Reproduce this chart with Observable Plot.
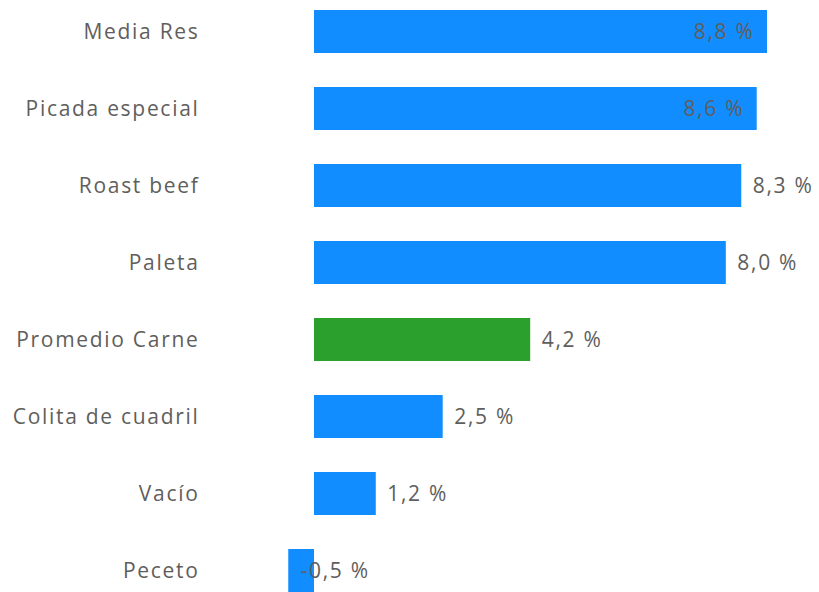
<!DOCTYPE html>
<html>
<head>
<meta charset="utf-8">
<script src="https://cdn.jsdelivr.net/npm/d3@7"></script>
<script src="https://cdn.jsdelivr.net/npm/@observablehq/plot@0.6"></script>
<style>
  html, body { margin: 0; padding: 0; background: #fff; }
  #chart svg { display: block; }
  #chart text { letter-spacing: 1.7px; }
</style>
</head>
<body>
<div id="chart"></div>
<script>
const categories = ["Media Res", "Picada especial", "Roast beef", "Paleta", "Promedio Carne", "Colita de cuadril", "Vacío", "Peceto"];
const values = [8.8, 8.6, 8.3, 8.0, 4.2, 2.5, 1.2, -0.5];
const highlight = ["Promedio Carne"];
const insideLabels = ["Media Res", "Picada especial"];

const fmt = v => v.toFixed(1).replace(".", ",") + " %";
const data = categories.map((c, i) => ({cat: c, v: values[i], label: fmt(values[i])}));

const font = "'Open Sans', 'Noto Sans', sans-serif";
const textColor = "#605e5c";
const fs = 21;

const chart = Plot.plot({
  width: 819,
  height: 592,
  marginLeft: 199,
  marginRight: 0,
  marginTop: 0,
  marginBottom: 0,
  style: {fontFamily: font, background: "#fff"},
  x: {domain: [0, 8.8], range: [314, 767], axis: null},
  y: {domain: categories, range: [8, 594], paddingInner: 0.446, paddingOuter: 0, label: null},
  marks: [
    Plot.barX(data, {
      y: "cat", x: "v",
      fill: d => highlight.includes(d.cat) ? "#2ca02c" : "#118dff"
    }),
    Plot.axisY({tickSize: 0, tickPadding: 0, fontSize: fs, fill: textColor, label: null}),
    Plot.text(data.filter(d => insideLabels.includes(d.cat)), {
      y: "cat", x: "v", text: "label", textAnchor: "end", dx: -13,
      fontSize: fs, fill: textColor
    }),
    Plot.text(data.filter(d => !insideLabels.includes(d.cat) && d.v >= 0), {
      y: "cat", x: "v", text: "label", textAnchor: "start", dx: 11,
      fontSize: fs, fill: textColor
    }),
    Plot.text(data.filter(d => d.v < 0), {
      y: "cat", x: d => 0, text: "label", textAnchor: "start", dx: -14,
      fontSize: fs, fill: textColor
    })
  ]
});
document.getElementById("chart").appendChild(chart);
</script>
</body>
</html>
